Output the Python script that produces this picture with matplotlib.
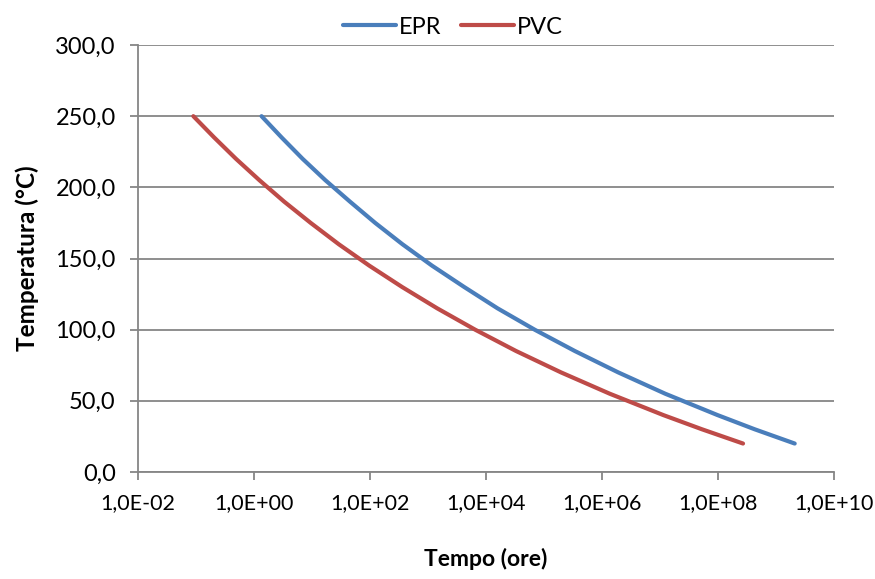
import numpy as np
import matplotlib
matplotlib.use("Agg")
import matplotlib.pyplot as plt
from matplotlib.ticker import FixedLocator, FuncFormatter

# temperature points (degC) and times (hours)
temp = [250, 235, 220, 205, 190, 175, 160, 145, 130, 115, 100, 85, 70, 55, 40, 30, 20]
epr_hours = [1.35, 3.0, 6.9, 17, 45, 123, 363, 1.17e3, 4.2e3, 1.58e4, 6.9e4,
             3.4e5, 1.9e6, 1.23e7, 9.8e7, 4.3e8, 2.1e9]
pvc_hours = [0.09, 0.206, 0.49, 1.24, 3.3, 9.5, 29, 97, 357, 1.44e3, 6.5e3,
             3.3e4, 1.96e5, 1.36e6, 1.14e7, 5.3e7, 2.7e8]

x_ticks = [1e-2, 1e0, 1e2, 1e4, 1e6, 1e8, 1e10]
y_ticks = [0, 50, 100, 150, 200, 250, 300]

plt.rcParams['font.family'] = ['Lato', 'DejaVu Sans']

fig = plt.figure(figsize=(8.75, 5.79), dpi=100)
ax = fig.add_axes([138/875, 1-472/579, (834-138)/875, (472-45)/579])

ax.plot(epr_hours, temp, color='#4A7EBB', lw=3, solid_capstyle='round', label='EPR', zorder=3)
ax.plot(pvc_hours, temp, color='#BE4B48', lw=3, solid_capstyle='round', label='PVC', zorder=3)

ax.set_xscale('log')
ax.set_xlim(1e-2, 1e10)
ax.set_ylim(0, 300)

ax.xaxis.set_major_locator(FixedLocator(x_ticks))
ax.xaxis.set_minor_locator(FixedLocator([]))
ax.xaxis.set_major_formatter(FuncFormatter(
    lambda v, p: "1,0E{:+03d}".format(int(round(np.log10(v))))))
ax.set_yticks(y_ticks)
ax.yaxis.set_major_formatter(FuncFormatter(lambda v, p: f"{v:.1f}".replace('.', ',')))

ax.grid(axis='y', color='#868686', lw=1.3)
ax.set_axisbelow(True)
for s in ['top', 'right']:
    ax.spines[s].set_visible(False)
for s in ['left', 'bottom']:
    ax.spines[s].set_color('#868686')
    ax.spines[s].set_linewidth(1.3)
ax.tick_params(axis='both', direction='out', length=6, color='#868686', width=1.3,
               labelcolor='black')
ax.tick_params(axis='x', pad=9, labelsize=15.5)
ax.tick_params(axis='y', pad=10, labelsize=17)

ax.set_xlabel('Tempo (ore)', fontsize=16.5, fontweight='bold', labelpad=25)
ax.set_ylabel('Temperatura (°C)', fontsize=17.5, fontweight='bold', labelpad=12)

fig.legend(loc='center', bbox_to_anchor=(453/875, 1-27/579), ncol=2, frameon=False,
           fontsize=17, handlelength=2.25, handletextpad=0.1, columnspacing=0.85)

fig.savefig('out.png', dpi=100)
